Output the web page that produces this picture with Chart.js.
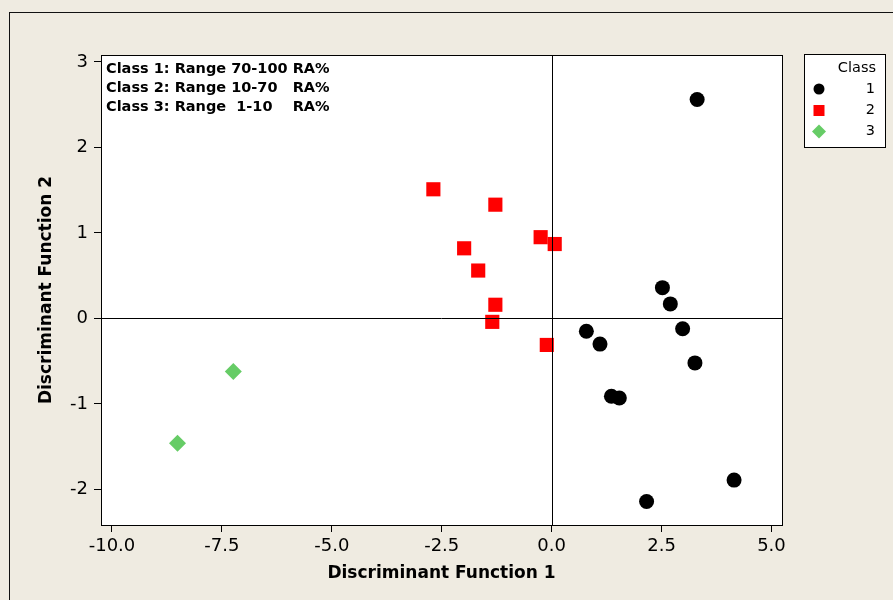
<!DOCTYPE html>
<html>
<head>
<meta charset="utf-8">
<script src="https://cdn.jsdelivr.net/npm/chart.js@4.4.1/dist/chart.umd.min.js"></script>
<style>
  html, body { margin: 0; padding: 0; background: #EFEBE1; }
  #wrap { width: 893px; height: 600px; }
</style>
</head>
<body>
<div id="wrap"><canvas id="c" width="893" height="600"></canvas></div>
<script>
// ---- data ----
const class1X = [3.31, 2.52, 2.70, 2.98, 3.26, 0.79, 1.10, 1.36, 1.54, 2.16, 4.15];
const class1Y = [2.56, 0.36, 0.17, -0.12, -0.52, -0.15, -0.30, -0.91, -0.93, -2.14, -1.89];
const class2X = [-2.69, -1.28, -1.99, -1.67, -0.25, 0.07, -1.28, -1.35, -0.11];
const class2Y = [1.51, 1.33, 0.82, 0.56, 0.95, 0.87, 0.16, -0.04, -0.31];
const class3X = [-7.24, -8.51];
const class3Y = [-0.62, -1.46];
const classNames = ['1', '2', '3'];
const xTicks = [-10, -7.5, -5, -2.5, 0, 2.5, 5];
const yTicks = [-2, -1, 0, 1, 2, 3];
const noteLines = ['Class 1: Range 70-100 RA%', 'Class 2: Range 10-70   RA%', 'Class 3: Range  1-10    RA%'];
const xTitle = 'Discriminant Function 1';
const yTitle = 'Discriminant Function 2';
const legendTitle = 'Class';

const toPts = (xs, ys) => xs.map((x, i) => ({ x: x, y: ys[i] }));

const colors = ['#000000', '#FF0000', '#66CC66'];
const styles = ['circle', 'rect', 'rectRot'];

const decor = {
  id: 'decor',
  beforeDraw(chart) {
    const ctx = chart.ctx, a = chart.chartArea;
    ctx.save();
    ctx.fillStyle = '#EFEBE1';
    ctx.fillRect(0, 0, chart.width, chart.height);
    ctx.strokeStyle = '#111';
    ctx.lineWidth = 1;
    ctx.strokeRect(9.5, 12.5, 1000, 1000);
    ctx.fillStyle = '#FFFFFF';
    ctx.fillRect(a.left, a.top, a.right - a.left, a.bottom - a.top);
    ctx.restore();
  },
  afterDatasetsDraw(chart) {
    const ctx = chart.ctx, a = chart.chartArea;
    const xs = chart.scales.x, ys = chart.scales.y;
    ctx.save();
    ctx.strokeStyle = '#000';
    ctx.lineWidth = 1;
    const x0 = Math.round(xs.getPixelForValue(0)) + 0.5;
    const y0 = Math.round(ys.getPixelForValue(0)) + 0.5;
    ctx.beginPath();
    ctx.moveTo(x0, a.top); ctx.lineTo(x0, a.bottom);
    ctx.moveTo(a.left, y0); ctx.lineTo(a.right, y0);
    ctx.stroke();
    ctx.strokeRect(Math.round(a.left) + 0.5, Math.round(a.top) + 0.5,
                   Math.round(a.right - a.left), Math.round(a.bottom - a.top));
    // note text
    ctx.fillStyle = '#000';
    ctx.font = 'bold 14.5px "DejaVu Sans"';
    ctx.textBaseline = 'middle';
    ctx.textAlign = 'left';
    noteLines.forEach((t, i) => ctx.fillText(t, a.left + 5, a.top + 14 + i * 19));
    ctx.restore();
  },
  afterDraw(chart) {
    const ctx = chart.ctx, a = chart.chartArea;
    ctx.save();
    ctx.fillStyle = '#000';
    ctx.font = 'bold 17px "DejaVu Sans"';
    ctx.textAlign = 'center';
    ctx.textBaseline = 'middle';
    ctx.fillText(xTitle, (a.left + a.right) / 2, 574);
    ctx.translate(47, (a.top + a.bottom) / 2);
    ctx.rotate(-Math.PI / 2);
    ctx.fillText(yTitle, 0, 0);
    ctx.restore();

    // legend box
    ctx.save();
    const lx = 804.5, ly = 54.5, lw = 81, lh = 93;
    ctx.fillStyle = '#FFFFFF';
    ctx.fillRect(lx, ly, lw, lh);
    ctx.strokeStyle = '#000';
    ctx.lineWidth = 1;
    ctx.strokeRect(lx, ly, lw, lh);
    ctx.fillStyle = '#000';
    ctx.font = '14.5px "DejaVu Sans"';
    ctx.textAlign = 'right';
    ctx.textBaseline = 'middle';
    ctx.fillText(legendTitle, 876, 68);
    const rows = [89, 110.5, 131.5];
    chart.data.datasets.forEach((ds, i) => {
      const y = rows[i], x = 819;
      ctx.fillStyle = ds.backgroundColor;
      ctx.beginPath();
      if (ds.pointStyle === 'circle') {
        ctx.arc(x, y, 5.5, 0, Math.PI * 2);
      } else if (ds.pointStyle === 'rect') {
        ctx.rect(x - 5.5, y - 5.5, 11, 11);
      } else {
        ctx.moveTo(x - 7, y); ctx.lineTo(x, y - 7); ctx.lineTo(x + 7, y); ctx.lineTo(x, y + 7);
        ctx.closePath();
      }
      ctx.fill();
      ctx.fillStyle = '#000';
      ctx.fillText(classNames[i], 875, y);
    });
    ctx.restore();
  }
};

new Chart(document.getElementById('c'), {
  type: 'scatter',
  data: {
    datasets: [
      { label: classNames[0], data: toPts(class1X, class1Y), pointStyle: styles[0], pointRadius: 7.5,
        backgroundColor: colors[0], borderColor: colors[0], pointBorderWidth: 0 },
      { label: classNames[1], data: toPts(class2X, class2Y), pointStyle: styles[1], pointRadius: 10,
        backgroundColor: colors[1], borderColor: colors[1], pointBorderWidth: 0 },
      { label: classNames[2], data: toPts(class3X, class3Y), pointStyle: styles[2], pointRadius: 8.5,
        backgroundColor: colors[2], borderColor: colors[2], pointBorderWidth: 0 }
    ]
  },
  options: {
    responsive: false,
    animation: false,
    events: [],
    layout: { padding: { top: 55, right: 111, left: 0, bottom: 0 } },
    plugins: { legend: { display: false }, tooltip: { enabled: false } },
    scales: {
      x: {
        type: 'linear', position: 'bottom', min: -10.25, max: 5.24,
        afterFit: s => { s.height = 75; },
        afterBuildTicks: s => { s.ticks = xTicks.map(v => ({ value: v })); },
        ticks: { callback: v => Number(v).toFixed(1), color: '#000', padding: 4,
                 font: { family: 'DejaVu Sans', size: 18 }, maxRotation: 0, autoSkip: false },
        grid: { drawOnChartArea: false, drawTicks: true, tickLength: 7, tickColor: '#000', color: '#000' },
        border: { display: true, color: '#000', width: 1 }
      },
      y: {
        type: 'linear', position: 'left', min: -2.415, max: 3.08,
        afterFit: s => { s.width = 101; },
        afterBuildTicks: s => { s.ticks = yTicks.map(v => ({ value: v })); },
        ticks: { callback: v => String(v), color: '#000', padding: 6,
                 font: { family: 'DejaVu Sans', size: 18 }, autoSkip: false },
        grid: { drawOnChartArea: false, drawTicks: true, tickLength: 7, tickColor: '#000', color: '#000' },
        border: { display: true, color: '#000', width: 1 }
      }
    }
  },
  plugins: [decor]
});
</script>
</body>
</html>
